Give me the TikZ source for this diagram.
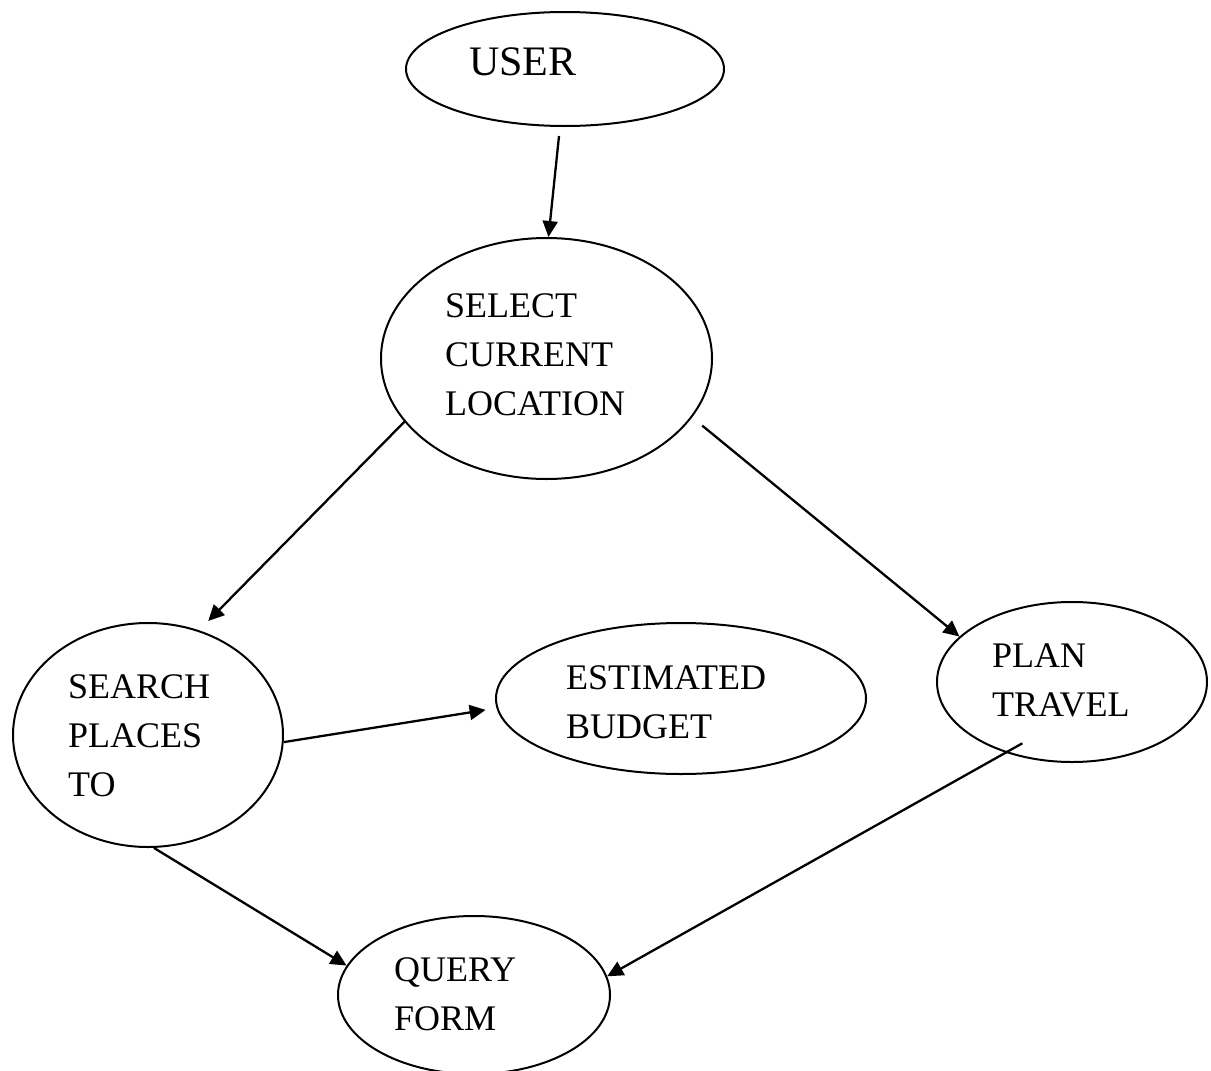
\documentclass[tikz,border=0pt]{standalone}
\usepackage{fontspec}
\setmainfont{Liberation Serif}
\usetikzlibrary{shapes.geometric,arrows.meta,calc}
\begin{document}
\begin{tikzpicture}[x=1pt,y=-1pt,
  oval/.style={ellipse,draw,line width=2pt,inner sep=0pt},
  caption/.style={anchor=base west,inner sep=0pt,align=left,
    font=\fontsize{36}{49}\selectfont},
  flow/.style={-{Triangle[length=16pt,width=15pt]},line width=2.3pt}]
\useasboundingbox (0,0) rectangle (1211,1071);
\clip (0,0) rectangle (1211,1071);

% use-case ovals
\node[oval,minimum width=318pt,minimum height=114pt] (user)   at (565,69)      {};
\node[oval,minimum width=331pt,minimum height=241pt] (select) at (546.5,358.5) {};
\node[oval,minimum width=270pt,minimum height=224pt] (search) at (148,735)     {};
\node[oval,minimum width=370pt,minimum height=151pt] (budget) at (681,698.5)   {};
\node[oval,minimum width=270pt,minimum height=160pt] (plan)   at (1072,682)    {};
\node[oval,minimum width=272pt,minimum height=158pt] (query)  at (474,995)     {};

% labels, left-aligned inside each oval (anchored at the last line's baseline)
\node[caption,font=\fontsize{42}{49}\selectfont] (userlbl) at (469,75) {USER};
\node[caption] (selectlbl) at (445,415)  {SELECT\\CURRENT\\LOCATION};
\node[caption] (searchlbl) at (68,796)   {SEARCH\\PLACES\\TO};
\node[caption] (budgetlbl) at (566,738)  {ESTIMATED\\BUDGET};
\node[caption] (planlbl)   at (992,716)  {PLAN\\TRAVEL};
\node[caption] (querylbl)  at (394,1030) {QUERY\\FORM};

% flow between the steps
\draw[flow] ([shift={(-6pt,-9pt)}]user.south) -- ([xshift=2pt]select.north);
\draw[flow,shorten >=13pt] (select.204) -- (search.64);
\draw[flow,shorten <=13pt] (select.-22) -- (plan.158);
\draw[flow,shorten >=11pt] (search.-3) -- (budget.183);
\draw[flow] (search.-87) -- (query.167);
\draw[flow] ($(plan.center)!0.84!(plan.231)$) -- (query.8);
\end{tikzpicture}
\end{document}
